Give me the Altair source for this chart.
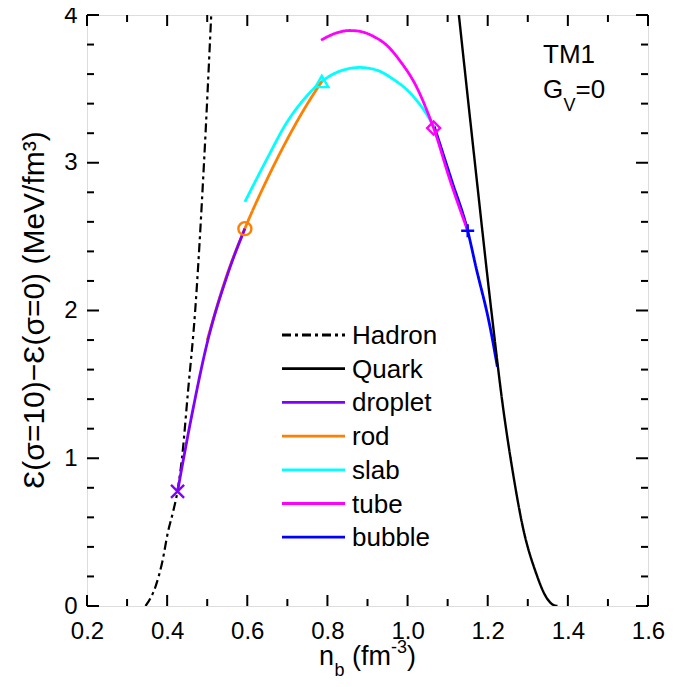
import altair as alt
import pandas as pd

# ---------------- data ----------------
series_names = ["Hadron", "Quark", "droplet", "rod", "slab", "tube", "bubble"]
series_colors = ["#000000", "#000000", "#8000FF", "#FF8000", "#00FFFF", "#FF00FF", "#0000FF"]
series_dash = [[9, 4, 3, 4], [1, 0], [1, 0], [1, 0], [1, 0], [1, 0], [1, 0]]

hadron_x = [0.346, 0.358, 0.372, 0.388, 0.402, 0.415, 0.426, 0.437, 0.452, 0.470, 0.492, 0.510]
hadron_y = [0.0, 0.05, 0.14, 0.30, 0.50, 0.64, 0.78, 1.00, 1.45, 2.00, 3.00, 4.00]

quark_x = [1.128, 1.168, 1.209, 1.238, 1.263, 1.288, 1.321, 1.346, 1.362, 1.374]
quark_y = [4.00, 3.00, 2.00, 1.35, 0.90, 0.53, 0.22, 0.06, 0.01, 0.0]

droplet_x = [0.426, 0.460, 0.499, 0.549, 0.594]
droplet_y = [0.776, 1.27, 1.77, 2.23, 2.554]

rod_x = [0.500, 0.549, 0.594, 0.648, 0.698, 0.748, 0.786]
rod_y = [1.80, 2.24, 2.555, 2.88, 3.15, 3.39, 3.55]

slab_x = [0.594, 0.648, 0.698, 0.748, 0.786, 0.831, 0.881, 0.930, 0.956, 1.014, 1.056, 1.066]
slab_y = [2.735, 3.02, 3.27, 3.45, 3.55, 3.62, 3.645, 3.62, 3.58, 3.45, 3.29, 3.24]

tube_x = [0.784, 0.830, 0.856, 0.880, 0.915, 0.950, 0.981, 1.023, 1.056, 1.065, 1.105, 1.150]
tube_y = [3.83, 3.885, 3.895, 3.89, 3.855, 3.79, 3.69, 3.51, 3.30, 3.235, 2.89, 2.54]

bubble_x = [1.066, 1.110, 1.150, 1.171, 1.205, 1.224]
bubble_y = [3.25, 2.88, 2.54, 2.29, 1.90, 1.62]

marker_series = ["droplet", "rod", "slab", "tube", "bubble"]
marker_x = [0.426, 0.594, 0.786, 1.065, 1.150]
marker_y = [0.776, 2.554, 3.55, 3.235, 2.54]
marker_shapes = ["M-1,-1L1,1M-1,1L1,-1", "circle", "triangle-up", "diamond", "M-1,0H1M0,-1V1"]

x_major = [0.2, 0.4, 0.6, 0.8, 1.0, 1.2, 1.4, 1.6]
x_minor = [0.3, 0.5, 0.7, 0.9, 1.1, 1.3, 1.5]
y_major = [0, 1, 2, 3, 4]
y_minor = [0.2, 0.4, 0.6, 0.8, 1.2, 1.4, 1.6, 1.8, 2.2, 2.4, 2.6, 2.8,
           3.2, 3.4, 3.6, 3.8]

# ---------------- tables ----------------
rows = []
for name, xs_, ys_ in [("Hadron", hadron_x, hadron_y), ("Quark", quark_x, quark_y),
                       ("droplet", droplet_x, droplet_y), ("rod", rod_x, rod_y),
                       ("slab", slab_x, slab_y), ("tube", tube_x, tube_y),
                       ("bubble", bubble_x, bubble_y)]:
    for i, (a, b) in enumerate(zip(xs_, ys_)):
        rows.append({"series": name, "x": a, "y": b, "i": i})
lines_df = pd.DataFrame(rows)
markers_df = pd.DataFrame({"series": marker_series, "x": marker_x, "y": marker_y})
legend_df = pd.DataFrame({"series": series_names, "k": list(range(len(series_names)))})

W, H = 561, 591
FONT = "Liberation Sans"

xs = alt.Scale(domain=[0.2, 1.6], nice=False, zero=False)
ys = alt.Scale(domain=[0, 4], nice=False, zero=False)
xaxis = alt.Axis(values=x_major, format=".1f", title=None, ticks=False, domain=False,
                 grid=False, labelFontSize=24, labelFont=FONT, labelColor="black",
                 labelPadding=13, labelFlush=False)
yaxis = alt.Axis(values=y_major, format="d", title=None, ticks=False, domain=False,
                 grid=False, labelFontSize=24, labelFont=FONT, labelColor="black",
                 labelPadding=10)

color = alt.Color("series:N", scale=alt.Scale(domain=series_names, range=series_colors), legend=None)
dash = alt.StrokeDash("series:N", scale=alt.Scale(domain=series_names, range=series_dash), legend=None)

base = alt.Chart(lines_df)


def line_layer(name, width):
    return base.transform_filter(alt.datum.series == name).mark_line(
        strokeWidth=width, clip=True, interpolate="monotone").encode(
        x=alt.X("x:Q", scale=xs, axis=xaxis),
        y=alt.Y("y:Q", scale=ys, axis=yaxis),
        color=color, strokeDash=dash, order="i:Q")


draw_order = [("Hadron", 2.2), ("bubble", 2.8), ("slab", 2.8), ("rod", 2.8),
              ("droplet", 2.8), ("tube", 2.8), ("Quark", 2.4)]
line_layers = [line_layer(n, w) for n, w in draw_order]

points = alt.Chart(markers_df).mark_point(filled=False, strokeWidth=2.4, size=170, opacity=1).encode(
    x=alt.X("x:Q", scale=xs, axis=xaxis),
    y=alt.Y("y:Q", scale=ys, axis=yaxis),
    color=color,
    shape=alt.Shape("series:N", scale=alt.Scale(domain=marker_series, range=marker_shapes), legend=None),
)

# ---------------- legend drawn as marks (rows from series_names) ----------------
ROW0, ROWSTEP = 320, 33.7
leg_base = alt.Chart(legend_df).transform_calculate(
    ly=f"({H} - ({ROW0} + {ROWSTEP} * datum.k)) / {H} * 4")
leg_lines = leg_base.mark_rule(strokeWidth=2.8).encode(
    x=alt.value(195), x2=alt.value(258),
    y=alt.Y("ly:Q", scale=ys, axis=yaxis),
    color=color, strokeDash=dash)
leg_text = leg_base.mark_text(font=FONT, fontSize=26, color="black", align="left",
                              baseline="middle", dy=1).encode(
    x=alt.value(265), y=alt.Y("ly:Q", scale=ys, axis=yaxis), text="series:N")


# inside ticks on all four sides
def xticks(vals, L):
    d = pd.DataFrame({"v": vals})
    bot = alt.Chart(d).mark_rule(color="black", strokeWidth=2).encode(
        x=alt.X("v:Q", scale=xs, axis=xaxis), y=alt.value(H), y2=alt.value(H - L))
    top = alt.Chart(d).mark_rule(color="black", strokeWidth=2).encode(
        x=alt.X("v:Q", scale=xs, axis=xaxis), y=alt.value(0), y2=alt.value(L))
    return [bot, top]


def yticks(vals, L):
    d = pd.DataFrame({"v": vals})
    left = alt.Chart(d).mark_rule(color="black", strokeWidth=2).encode(
        y=alt.Y("v:Q", scale=ys, axis=yaxis), x=alt.value(0), x2=alt.value(L))
    right = alt.Chart(d).mark_rule(color="black", strokeWidth=2).encode(
        y=alt.Y("v:Q", scale=ys, axis=yaxis), x=alt.value(W), x2=alt.value(W - L))
    return [left, right]


tick_layers = xticks(x_major, 11) + xticks(x_minor, 7) + yticks(y_major, 12) + yticks(y_minor, 7)


def label(text, x, y, size, align="left", baseline="alphabetic", angle=0):
    return alt.Chart(pd.DataFrame({"t": [text]})).mark_text(
        font=FONT, fontSize=size, color="black", align=align, baseline=baseline,
        angle=angle).encode(text="t:N", x=alt.value(x), y=alt.value(y))


texts = [
    # x-axis title  n_b (fm^-3)
    label("n", 232, 650, 27),
    label("b", 247.5, 661, 18),
    label("(fm", 265, 650, 27),
    label("-3", 304, 638, 18),
    label(")", 320, 650, 27),
    # y-axis title
    label("Ɛ(σ=10)−Ɛ(σ=0) (MeV/fm³)", -52, 295, 30, align="center", baseline="middle", angle=270),
    # annotation
    label("TM1", 456, 48, 26),
    label("G", 456, 83, 26),
    label("V", 476.5, 96, 18),
    label("=0", 488.5, 83, 26),
]

chart = alt.layer(*line_layers, points, leg_lines, leg_text, *tick_layers, *texts).properties(
    width=W, height=H,
    autosize=alt.AutoSizeParams(type="none"),
    padding={"left": 79, "top": 7, "right": 38, "bottom": 73},
).configure_view(stroke="black", strokeWidth=2).configure(background="white")

chart.save("out.html", embed_options={"renderer": "svg", "actions": False})
